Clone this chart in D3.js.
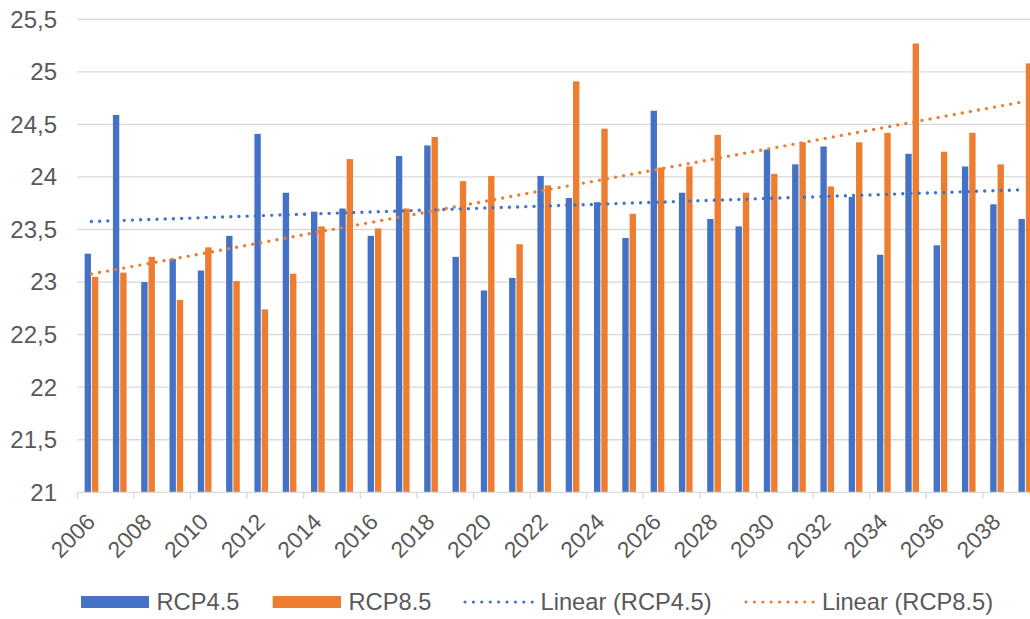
<!DOCTYPE html>
<html><head><meta charset="utf-8">
<script src="https://cdn.jsdelivr.net/npm/d3@7"></script>
<style>
html,body{margin:0;padding:0;background:#fff;}
svg{display:block;font-family:"Liberation Sans",Arial,sans-serif;}
</style></head>
<body><svg id="chart" width="1030" height="619"></svg>
<script>
const years = d3.range(2006, 2040);
const rcp45 = [23.27,24.59,23.00,23.22,23.11,23.44,24.41,23.85,23.67,23.70,
               23.44,24.20,24.30,23.24,22.92,23.04,24.01,23.80,23.76,23.42,
               24.63,23.85,23.60,23.53,24.26,24.12,24.29,23.81,23.26,24.22,
               23.35,24.10,23.74,23.60];
const rcp85 = [23.05,23.09,23.24,22.83,23.33,23.01,22.74,23.08,23.53,24.17,
               23.51,23.70,24.38,23.96,24.01,23.36,23.92,24.91,24.46,23.65,
               24.09,24.10,24.40,23.85,24.03,24.33,23.91,24.33,24.42,25.27,
               24.24,24.42,24.12,25.08];
const yTicks = [21,21.5,22,22.5,23,23.5,24,24.5,25,25.5];
const xLabels = years.filter((d,i)=>i%2===0);
const seriesNames = ["RCP4.5","RCP8.5"];
const colors = {"RCP4.5":"#4472C4","RCP8.5":"#ED7D31"};

const svg = d3.select("#chart");
const plotLeft = 77.3, plotTop = 19.3, plotBottom = 492.3;
const step = 28.3;
const x = d3.scaleBand().domain(years).range([plotLeft, plotLeft + step*years.length]).padding(0);
const x1 = d3.scaleBand().domain(seriesNames).range([0, x.bandwidth()]).paddingInner(0.13).paddingOuter(1);
const y = d3.scaleLinear().domain([21,25.5]).range([plotBottom, plotTop]);

// gridlines
svg.append("g").selectAll("line").data(yTicks.slice(1)).join("line")
  .attr("x1", plotLeft).attr("x2", 1030)
  .attr("y1", d=>y(d)).attr("y2", d=>y(d))
  .attr("stroke","#d9d9d9").attr("stroke-width",1.3);

// y labels
svg.append("g").selectAll("text").data(yTicks).join("text")
  .attr("x", 57).attr("y", d=>y(d)).attr("dy","0.35em")
  .attr("text-anchor","end").attr("font-size",24).attr("fill","#595959")
  .text(d=>String(d).replace(".",","));

// bars
const data = years.map((yr,i)=>({year:yr, "RCP4.5":rcp45[i], "RCP8.5":rcp85[i]}));
const g = svg.append("g");
seriesNames.forEach(s=>{
  g.append("g").selectAll("rect").data(data).join("rect")
    .attr("x", d=>x(d.year)+x1(s))
    .attr("width", x1.bandwidth())
    .attr("y", d=>y(d[s]))
    .attr("height", d=>y(21)-y(d[s]))
    .attr("fill", colors[s]);
});

// x axis line & ticks
svg.append("line").attr("x1",plotLeft).attr("x2",1030).attr("y1",plotBottom).attr("y2",plotBottom)
  .attr("stroke","#d9d9d9").attr("stroke-width",1.3);
svg.append("g").selectAll("line").data(xLabels).join("line")
  .attr("x1",d=>x(d)).attr("x2",d=>x(d)).attr("y1",plotBottom).attr("y2",plotBottom+6.5)
  .attr("stroke","#d9d9d9").attr("stroke-width",1.3);
svg.append("g").selectAll("text").data(xLabels).join("text")
  .attr("transform", d=>`translate(${x(d)+x.bandwidth()/2+5},${plotBottom+31}) rotate(-45)`)
  .attr("text-anchor","end").attr("font-size",22.8).attr("fill","#595959")
  .text(d=>d);

// trendlines (least squares on category index)
function fit(vals){
  const n=vals.length, xs=d3.range(1,n+1);
  const mx=d3.mean(xs), my=d3.mean(vals);
  const b=d3.sum(xs.map((xv,i)=>(xv-mx)*(vals[i]-my)))/d3.sum(xs.map(xv=>(xv-mx)**2));
  return xs.map(xv=>my+b*(xv-mx));
}
const line = d3.line().x((d,i)=>x(years[i])+x.bandwidth()/2).y(d=>y(d));
[[rcp45,"RCP4.5"],[rcp85,"RCP8.5"]].forEach(([vals,s])=>{
  svg.append("path").attr("d", line(fit(vals)))
    .attr("fill","none").attr("stroke",colors[s]).attr("stroke-width",3.4)
    .attr("stroke-linecap","round").attr("stroke-dasharray","0 8.2");
});

// legend
const ly = 602, fs = 23.7;
const lg = svg.append("g").attr("font-size",fs).attr("fill","#595959");
const legendItems = [
  {type:"rect", s:"RCP4.5", x0:81, x1:149, tx:156.5, label:"RCP4.5"},
  {type:"rect", s:"RCP8.5", x0:272.7, x1:341, tx:348.5, label:"RCP8.5"},
  {type:"line", s:"RCP4.5", x0:465, x1:533, tx:540.5, label:"Linear (RCP4.5)"},
  {type:"line", s:"RCP8.5", x0:746, x1:815, tx:822, label:"Linear (RCP8.5)"}
];
legendItems.forEach(it=>{
  if(it.type==="rect"){
    lg.append("rect").attr("x",it.x0).attr("y",ly-6).attr("width",it.x1-it.x0).attr("height",12).attr("fill",colors[it.s]);
  } else {
    lg.append("line").attr("x1",it.x0).attr("x2",it.x1).attr("y1",ly).attr("y2",ly)
      .attr("stroke",colors[it.s]).attr("stroke-width",3.2).attr("stroke-linecap","round").attr("stroke-dasharray","0 8.4");
  }
  lg.append("text").attr("x",it.tx).attr("y",ly).attr("dy","0.35em").text(it.label);
});
</script></body></html>
